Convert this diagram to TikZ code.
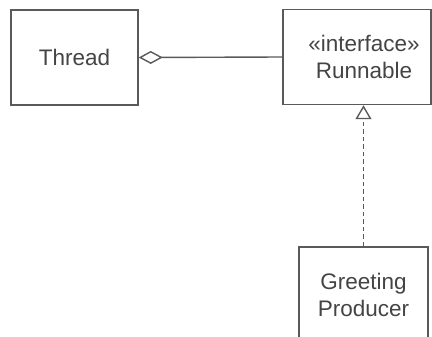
\documentclass[tikz,border=0pt]{standalone}
\usepackage{fontspec}
\setmainfont{Liberation Sans}
\usetikzlibrary{arrows.meta}

\definecolor{umlgray}{HTML}{5A5A5A}
\definecolor{umltext}{HTML}{444444}

\tikzset{
  classtext/.style={align=center, text=umltext, inner sep=0pt,
    font=\fontsize{22.5}{27}\selectfont},
  classbox/.style={classtext, draw=umlgray, line width=1.5pt,
    minimum height=95pt},
  umlline/.style={draw=umlgray, line width=1.4pt}
}

\begin{document}
\begin{tikzpicture}[x=1pt, y=-1pt]

\useasboundingbox (0,0) rectangle (432,337);

% Define coordinates
\coordinate (threadPos) at (74.5,57.5);
\coordinate (runnablePos) at (357,57);
\coordinate (producerPos) at (363.5,294.5);

% Classes
\node[classbox, minimum width=127pt] (thread) at (threadPos) {Thread};
\node[classbox, minimum width=148pt,
  label={[classtext, xshift=7pt]center:{«interface»\\Runnable}}] (runnable) at (runnablePos) {};
\node[classbox, minimum width=129pt] (producer) at (producerPos) {Greeting\\Producer};

% Aggregation
\draw[umlline, {Diamond[open, length=24pt, width=13pt]}-] (thread.east) -- (runnable.west);

% Realization
\draw[umlline, dash pattern=on 4.5pt off 3pt, -{Triangle[open, length=14pt, width=16pt]}]
    (producer.north) -- (producer.north |- runnable.south);

\end{tikzpicture}
\end{document}
